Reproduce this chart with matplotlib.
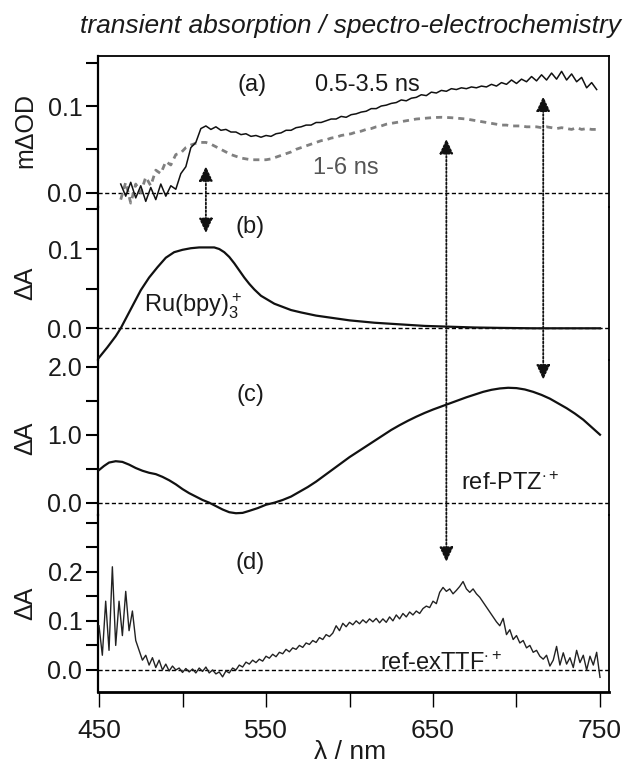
import numpy as np
import matplotlib
matplotlib.use('Agg')
import matplotlib.pyplot as plt
from matplotlib.patches import ConnectionPatch
from matplotlib.ticker import FixedLocator, FormatStrFormatter

plt.rcParams['font.family'] = ['Liberation Sans', 'DejaVu Sans']
plt.rcParams['mathtext.fontset'] = 'custom'
plt.rcParams['mathtext.rm'] = 'Liberation Sans'
plt.rcParams['mathtext.it'] = 'Liberation Sans:italic'
plt.rcParams['mathtext.bf'] = 'Liberation Sans:bold'

# ---------------- data ----------------
# (a) transient absorption, 0.5-3.5 ns (mdOD), 3 nm spacing from 463 nm
a_fast_start, a_fast_step = 463, 3
a_fast = [0.010, -0.004, 0.012, -0.006, 0.008, -0.010, 0.006, -0.008, 0.010, -0.004,
          0.008, 0.004, 0.022, 0.030, 0.052, 0.058, 0.074, 0.077, 0.073, 0.076,
          0.072, 0.073, 0.070, 0.070, 0.067, 0.068, 0.065, 0.066, 0.064, 0.066,
          0.065, 0.068, 0.069, 0.072, 0.072, 0.075, 0.076, 0.078, 0.078, 0.081,
          0.081, 0.083, 0.085, 0.085, 0.088, 0.087, 0.090, 0.091, 0.093, 0.094,
          0.097, 0.097, 0.100, 0.101, 0.103, 0.104, 0.107, 0.106, 0.109, 0.110,
          0.113, 0.112, 0.116, 0.115, 0.118, 0.117, 0.120, 0.119, 0.121, 0.120,
          0.122, 0.121, 0.123, 0.122, 0.125, 0.123, 0.127, 0.125, 0.130, 0.126,
          0.131, 0.128, 0.134, 0.129, 0.136, 0.130, 0.138, 0.131, 0.140, 0.130,
          0.137, 0.128, 0.133, 0.121, 0.127, 0.119]
# (a) transient absorption, 1-6 ns
a_slow_start, a_slow_step = 463, 3
a_slow = [-0.008, 0.012, -0.012, 0.010, 0.000, 0.018, 0.008, 0.026, 0.022, 0.036,
          0.032, 0.044, 0.046, 0.052, 0.055, 0.057, 0.058, 0.058, 0.056, 0.053,
          0.050, 0.047, 0.044, 0.042, 0.040, 0.039, 0.038, 0.038, 0.038, 0.038,
          0.039, 0.041, 0.043, 0.045, 0.047, 0.050, 0.052, 0.054, 0.056, 0.058,
          0.060, 0.061, 0.063, 0.064, 0.066, 0.067, 0.068, 0.070, 0.071, 0.073,
          0.074, 0.076, 0.077, 0.079, 0.080, 0.081, 0.082, 0.083, 0.084, 0.085,
          0.0855, 0.086, 0.0865, 0.0868, 0.087, 0.0868, 0.0865, 0.086, 0.0855, 0.085,
          0.084, 0.083, 0.082, 0.081, 0.080, 0.079, 0.078, 0.078, 0.077, 0.077,
          0.077, 0.076, 0.076, 0.076, 0.075, 0.076, 0.075, 0.074, 0.075, 0.074,
          0.073, 0.075, 0.073, 0.074, 0.073, 0.073]

# (b) Ru(bpy)3+ reference spectrum
b_wl = [450, 455, 460, 463, 466, 470, 475, 480, 485, 490, 495, 500, 505, 510, 515,
        519, 522, 525, 528, 531, 534, 537, 540, 543, 547, 551, 555, 560, 565, 571,
        580, 590, 600, 615, 630, 645, 660, 675, 690, 710, 730, 750]
b_val = [-0.037, -0.024, -0.010, 0.000, 0.012, 0.028, 0.048, 0.064, 0.077, 0.089,
         0.096, 0.099, 0.101, 0.102, 0.102, 0.102, 0.100, 0.096, 0.090, 0.082,
         0.073, 0.064, 0.056, 0.049, 0.041, 0.036, 0.031, 0.027, 0.023, 0.020,
         0.016, 0.013, 0.010, 0.007, 0.005, 0.003, 0.002, 0.001, 0.0005, 0.0,
         0.0, 0.0]

# (c) ref-PTZ.+ spectrum
c_wl = [450, 453, 456, 460, 464, 468, 472, 476, 480, 484, 488, 492, 496, 500, 504,
        508, 512, 516, 520, 524, 528, 532, 536, 540, 545, 550, 555, 560, 565, 570,
        575, 580, 585, 590, 595, 600, 605, 610, 615, 620, 625, 630, 635, 640, 645,
        650, 655, 660, 665, 670, 675, 680, 685, 690, 695, 700, 705, 710, 715, 720,
        725, 730, 735, 740, 745, 750]
c_val = [0.48, 0.54, 0.59, 0.61, 0.60, 0.56, 0.51, 0.47, 0.44, 0.42, 0.38, 0.33,
         0.27, 0.20, 0.14, 0.09, 0.04, 0.00, -0.05, -0.10, -0.14, -0.155, -0.15,
         -0.12, -0.08, -0.03, 0.00, 0.04, 0.09, 0.16, 0.23, 0.31, 0.40, 0.49, 0.58,
         0.67, 0.75, 0.83, 0.91, 0.99, 1.07, 1.14, 1.205, 1.265, 1.32, 1.37, 1.415,
         1.46, 1.505, 1.55, 1.59, 1.63, 1.66, 1.68, 1.69, 1.685, 1.665, 1.63,
         1.585, 1.53, 1.46, 1.39, 1.31, 1.22, 1.11, 1.00]

# (d) ref-exTTF.+ spectrum, 2 nm spacing from 450 nm
d_start, d_step = 450, 2
d_val = [0.09, 0.03, 0.14, 0.04, 0.21, 0.05, 0.14, 0.07, 0.16, 0.08,
         0.12, 0.06, 0.04, 0.02, 0.03, 0.01, 0.025, 0.005, 0.02, 0.0,
         0.012, -0.002, 0.008, 0.0, 0.004, -0.005, 0.003, -0.004, 0.002, -0.006,
         0.004, -0.003, 0.006, -0.006, 0.0, -0.008, -0.004, -0.014, -0.002, -0.006,
         0.004, 0.0, 0.01, 0.006, 0.016, 0.012, 0.02, 0.015, 0.022, 0.018,
         0.028, 0.024, 0.032, 0.027, 0.036, 0.033, 0.042, 0.037, 0.045, 0.042,
         0.05, 0.046, 0.055, 0.052, 0.06, 0.056, 0.066, 0.062, 0.072, 0.068,
         0.075, 0.09, 0.08, 0.095, 0.088, 0.097, 0.092, 0.1, 0.094, 0.102,
         0.096, 0.104, 0.098, 0.105, 0.096, 0.104, 0.097, 0.108, 0.1, 0.112,
         0.104, 0.115, 0.108, 0.118, 0.112, 0.12, 0.115, 0.125, 0.13, 0.127,
         0.14, 0.135, 0.158, 0.168, 0.16, 0.165, 0.155, 0.162, 0.17, 0.18,
         0.165, 0.158, 0.165, 0.155, 0.148, 0.138, 0.128, 0.118, 0.108, 0.098,
         0.09, 0.105, 0.072, 0.082, 0.062, 0.07, 0.055, 0.06, 0.045, 0.05,
         0.036, 0.04, 0.028, 0.022, 0.03, 0.008, 0.02, 0.048, 0.01, 0.035,
         0.012, 0.025, 0.005, 0.04, 0.015, 0.03, 0.0, 0.028, 0.01, 0.036,
         -0.015]

# correlation arrows: wavelength, (panel, value) of the upper and lower heads
arrow_wl = [514, 658, 716]
arrow_top = [('a', 0.0305), ('a', 0.062), ('a', 0.111)]
arrow_bottom = [('b', 0.120), ('d', 0.22), ('c', 1.81)]

x_major = [450, 550, 650, 750]
x_minor = [500, 600, 700]

# ---------------- layout ----------------
W, H = 629, 764
fig = plt.figure(figsize=(W / 100, H / 100), dpi=100)
TXT = '#1a1a1a'

left_px, right_px = 97.7, 609
bounds = [56, 207, 360, 515, 692]           # panel edges in px (top -> bottom)
ylims = {'a': (-0.0165, 0.1577), 'b': (-0.040, 0.153),
         'c': (-0.181, 2.0985), 'd': (-0.0448, 0.3154)}
ymajor = {'a': [0.0, 0.1], 'b': [0.0, 0.1], 'c': [0.0, 1.0, 2.0], 'd': [0.0, 0.1, 0.2]}
yminor = {'a': [0.05, 0.15], 'b': [0.05, 0.15], 'c': [0.5, 1.5], 'd': [0.05, 0.15, 0.25, 0.3]}
names = ['a', 'b', 'c', 'd']
axes = {}
for i, n in enumerate(names):
    top, bot = bounds[i], bounds[i + 1]
    ax = fig.add_axes([left_px / W, 1 - bot / H, (right_px - left_px) / W, (bot - top) / H])
    ax.set_facecolor('none')
    ax.set_xlim(449.22, 755.39)
    ax.set_ylim(*ylims[n])
    for s in ['top', 'bottom']:
        ax.spines[s].set_visible(False)
    ax.spines['left'].set_linewidth(1.6)
    ax.spines['right'].set_linewidth(1.3)
    ax.yaxis.set_major_locator(FixedLocator(ymajor[n]))
    ax.yaxis.set_minor_locator(FixedLocator(yminor[n]))
    ax.yaxis.set_major_formatter(FormatStrFormatter('%.1f'))
    ax.tick_params(axis='y', which='both', direction='out', length=8.6, width=1.5,
                   labelsize=18, pad=2.5, colors='k', labelcolor=TXT)
    ax.axhline(0, color='k', lw=1.0, ls=(0, (3, 1.8)), zorder=1)
    axes[n] = ax
    if n != 'd':
        ax.tick_params(axis='x', which='both', bottom=False, labelbottom=False)

axes['a'].spines['top'].set_visible(True)
axes['a'].spines['top'].set_linewidth(1.3)
axd = axes['d']
axd.spines['bottom'].set_visible(True)
axd.spines['bottom'].set_linewidth(2.0)
axd.xaxis.set_major_locator(FixedLocator(x_major))
axd.xaxis.set_minor_locator(FixedLocator(x_minor))
axd.tick_params(axis='x', which='both', direction='out', length=10.8, width=1.0,
                labelsize=19, pad=8.5, labelcolor=TXT)

# ---------------- curves ----------------
wl_fast = a_fast_start + a_fast_step * np.arange(len(a_fast))
wl_slow = a_slow_start + a_slow_step * np.arange(len(a_slow))
wl_d = d_start + d_step * np.arange(len(d_val))
axes['a'].plot(wl_slow, a_slow, color='#808080', lw=2.0, ls=(0, (2.2, 1.8)), zorder=2)
axes['a'].plot(wl_fast, a_fast, color='#111111', lw=1.1, zorder=3)
axes['b'].plot(b_wl, b_val, color='#111111', lw=1.6, zorder=3)
axes['c'].plot(c_wl, c_val, color='#111111', lw=1.6, zorder=3)
axes['d'].plot(wl_d, d_val, color='#222222', lw=1.0, zorder=3)

# ---------------- arrows ----------------
for x, (pa, va), (pb, vb) in zip(arrow_wl, arrow_top, arrow_bottom):
    con = ConnectionPatch(xyA=(x, vb), coordsA=axes[pb].transData,
                          xyB=(x, va), coordsB=axes[pa].transData,
                          arrowstyle='<|-|>,head_length=0.9,head_width=0.42',
                          mutation_scale=10, lw=1.3, ls=(0, (1, 1.1)),
                          color='#111111', fc='#111111', zorder=5)
    fig.add_artist(con)

# ---------------- texts ----------------
def ft(px, py, s, color=TXT, **kw):
    fig.text(px / W, 1 - py / H, s, color=color, **kw)

ft(351, 33, 'transient absorption / spectro-electrochemistry', fontsize=19,
   style='italic', ha='center', va='baseline')
ft(25, 131, 'm\u0394OD', fontsize=18, rotation=90, ha='center', va='center')
ft(25, 283, '\u0394A', fontsize=18, rotation=90, ha='center', va='center')
ft(25, 438, '\u0394A', fontsize=18, rotation=90, ha='center', va='center')
ft(25, 603, '\u0394A', fontsize=18, rotation=90, ha='center', va='center')
ft(350, 740, '\u03bb / nm', fontsize=19, ha='center', va='top')

ft(252, 85, '(a)', fontsize=17, ha='center', va='center')
ft(367, 85, '0.5-3.5 ns', fontsize=17, ha='center', va='center')
ft(346, 168, '1-6 ns', fontsize=17, ha='center', va='center', color='#555555')
ft(250, 227, '(b)', fontsize=17, ha='center', va='center')
ft(144, 313, r'Ru(bpy)$_3^+$', fontsize=17, ha='left', va='baseline')
ft(250, 395, '(c)', fontsize=17, ha='center', va='center')
ft(461, 490, r'ref-PTZ$^{\cdot+}$', fontsize=17, ha='left', va='baseline')
ft(250, 563, '(d)', fontsize=17, ha='center', va='center')
ft(380, 670, r'ref-exTTF$^{\cdot+}$', fontsize=17, ha='left', va='baseline')

fig.savefig('out.png', dpi=100)
